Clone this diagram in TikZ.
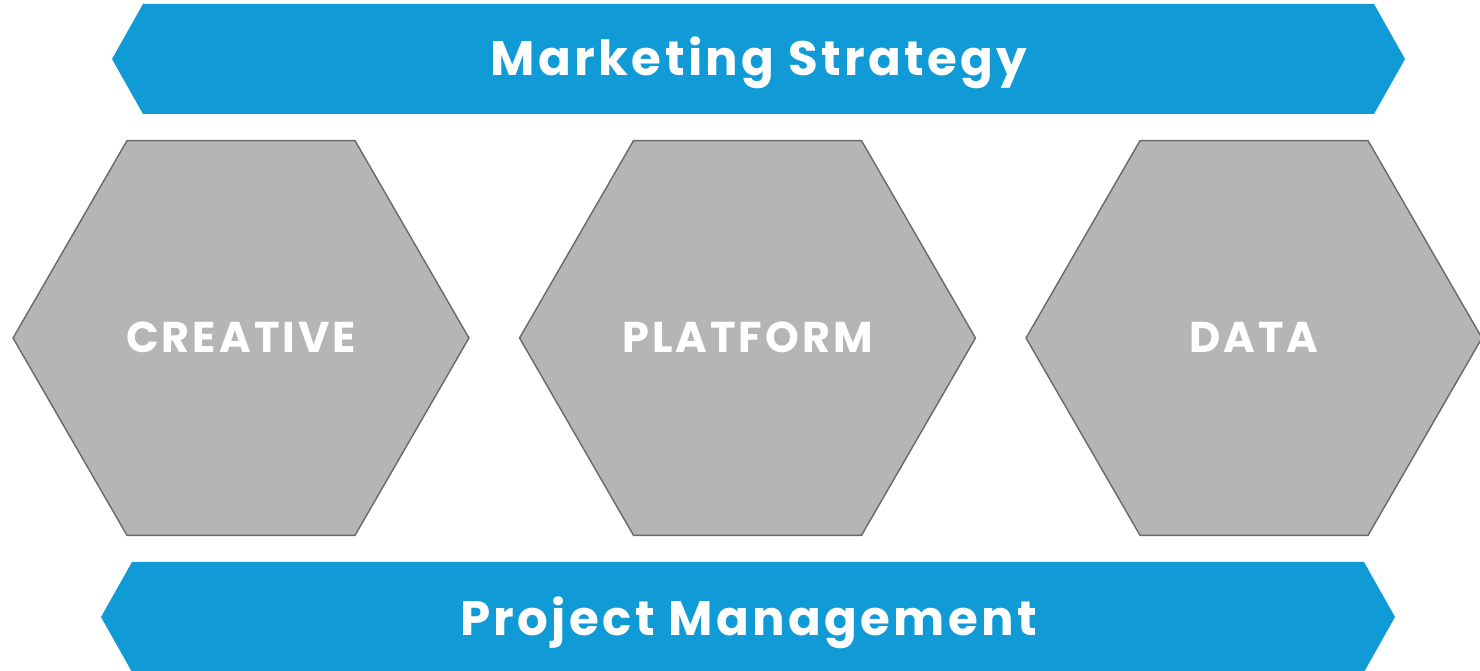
\documentclass[tikz,border=0pt]{standalone}
\usepackage{fontspec}
\setmainfont{Poppins}[LetterSpace=7]
\usetikzlibrary{shapes.geometric}

\definecolor{bannerblue}{RGB}{17,155,214}
\definecolor{hexgray}{RGB}{181,181,181}
\definecolor{hexedge}{RGB}{105,105,105}

\begin{document}
\begin{tikzpicture}[
    x=0.02cm, y=-0.02cm, % ONE UNIT = ONE PIXEL of the 1480x671 layout (y runs down)
    % Banner style: blue ribbon with pointed ends
    banner/.style={fill=bannerblue,draw=none},
    % Banner label style: adjust font size
    bannerlbl/.style={text=white,font=\bfseries\fontsize{27.5}{30}\selectfont,inner sep=0pt,anchor=base},
    % Hexagon style: adjust minimum size (circumscribed diameter), font size
    hexbox/.style={regular polygon,regular polygon sides=6,
        draw=hexedge,line width=0.8pt,fill=hexgray,minimum size=9.12cm,inner sep=0pt},
    % Hexagon label style
    hexlbl/.style={text=white,font=\bfseries\fontsize{24.5}{28}\selectfont,inner sep=0pt,anchor=base}
]
\useasboundingbox (0,0) rectangle (1480,671);

% ==============================
% TUNING KNOBS - EDIT THESE TO ADJUST POSITIONS
% ==============================
\def\yHex{338}   % HEXAGON ROW centre (pixels from top)
\def\yLbl{353}   % HEXAGON LABEL baseline
\def\dx{506.5}   % HORIZONTAL SPACING between hexagon centres
\def\xHex{241}   % FIRST HEXAGON centre x
\def\tip{31}     % HOW FAR the banner points stick out

% ==============================
% TOP BANNER: strategy
% ==============================
\fill[banner] (112,59) -- (112+\tip,4) -- (1405-\tip,4) -- (1405,59)
    -- (1405-\tip,114) -- (112+\tip,114) -- cycle;
\node[bannerlbl] (strategy) at (759,76) {Marketing Strategy};

% ==============================
% HEXAGON ROW
% ==============================
\node[hexbox] (creative) at (\xHex+0*\dx,\yHex) {};
\node[hexbox] (platform) at (\xHex+1*\dx,\yHex) {};
\node[hexbox] (data)     at (\xHex+2*\dx,\yHex) {};

\node[hexlbl] (creativelbl) at (creative.center |- 0,\yLbl) {CREATIVE};
\node[hexlbl] (platformlbl) at (platform.center |- 0,\yLbl) {PLATFORM};
\node[hexlbl] (datalbl)     at (data.center |- 0,\yLbl) {DATA};

% ==============================
% BOTTOM BANNER: management (runs off the lower edge)
% ==============================
\fill[banner] (101,617) -- (101+\tip,562) -- (1395-\tip,562) -- (1395,617)
    -- (1395-\tip,672) -- (101+\tip,672) -- cycle;
\node[bannerlbl] (management) at (748.5,635) {Project Management};
\end{tikzpicture}
\end{document}
